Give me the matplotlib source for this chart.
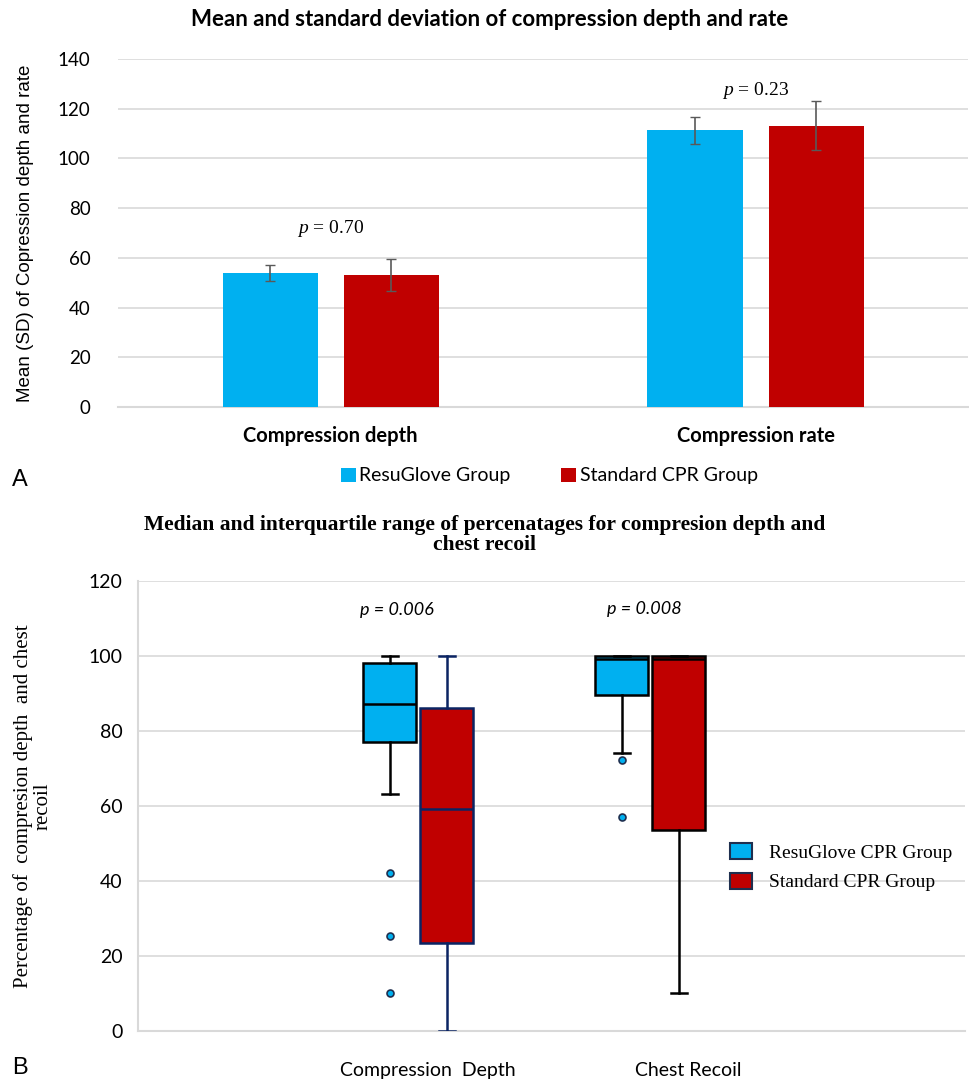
import matplotlib
matplotlib.use("Agg")
import matplotlib.pyplot as plt
from matplotlib.patches import Patch

plt.rcParams["mathtext.fontset"] = "custom"
plt.rcParams["mathtext.it"] = "Liberation Serif:italic"
plt.rcParams["mathtext.rm"] = "Liberation Serif"

# ---------------- Data: panel A ----------------
bar_categories = ["Compression depth", "Compression rate"]
resuglove_mean = [53.9, 111.3]
resuglove_sd = [3.2, 5.3]
standard_mean = [53.2, 113.2]
standard_sd = [6.4, 9.9]
bar_pvalues = ["0.70", "0.23"]
bar_yticks = [0, 20, 40, 60, 80, 100, 120, 140]

# ---------------- Data: panel B ----------------
box_categories = ["Compression  Depth", "Chest Recoil"]
# [whisker low, Q1, median, Q3, whisker high]
resu_depth = [63.2, 77.1, 87.3, 98.2, 100.0]
resu_depth_fliers = [42.2, 25.3, 10.2]
std_depth = [0.0, 23.6, 59.3, 86.1, 100.0]
std_depth_fliers = []
resu_recoil = [74.2, 89.7, 99.2, 100.0, 100.0]
resu_recoil_fliers = [72.2, 57.1]
std_recoil = [10.2, 53.6, 99.2, 100.0, 100.0]
std_recoil_fliers = []
box_pvalues = ["0.006", "0.008"]
box_yticks = [0, 20, 40, 60, 80, 100, 120]

BLUE = "#00B0F0"
RED = "#C00000"
GRID = "#D9D9D9"
SANS = ["Lato", "DejaVu Sans"]
SERIF = ["Liberation Serif", "DejaVu Serif"]

fig = plt.figure(figsize=(9.69, 10.8), dpi=100)

# ================= Panel A =================
ax1 = fig.add_axes([0.122, 1 - 407 / 1080, 0.877, (407 - 59) / 1080])
x = list(range(len(bar_categories)))
off = 0.1425
w = 0.224
ax1.bar([i - off for i in x], resuglove_mean, w, color=BLUE, zorder=3,
        yerr=resuglove_sd, error_kw=dict(ecolor="#595959", capsize=3.5, lw=1.2))
ax1.bar([i + off for i in x], standard_mean, w, color=RED, zorder=3,
        yerr=standard_sd, error_kw=dict(ecolor="#595959", capsize=3.5, lw=1.2))
ax1.set_xlim(-0.5, 1.5)
ax1.set_ylim(0, 140)
ax1.set_yticks(bar_yticks)
ax1.yaxis.grid(True, color=GRID, lw=1.2, zorder=0)
ax1.set_axisbelow(True)
for s in ["top", "right", "left"]:
    ax1.spines[s].set_visible(False)
ax1.spines["bottom"].set_color(GRID)
ax1.spines["bottom"].set_linewidth(1.5)
ax1.tick_params(axis="both", length=0, labelsize=13.5)
ax1.set_xticks(x)
ax1.set_xticklabels(bar_categories, fontsize=14.5, fontweight="bold", family=SANS, color="black")
ax1.tick_params(axis="x", pad=14)
for lab in ax1.get_yticklabels():
    lab.set_family(SANS)
ax1.tick_params(axis="y", pad=20)
ax1.set_ylabel("Mean (SD) of Copression depth and rate", fontsize=13.5,
               family=["Liberation Sans", "DejaVu Sans"], labelpad=17)
ax1.text(0, 72, "$p$ = " + bar_pvalues[0], ha="center", va="center", fontsize=14,
         family=SERIF)
ax1.text(1, 127.5, "$p$ = " + bar_pvalues[1], ha="center", va="center", fontsize=14,
         family=SERIF)
fig.text(0.505, 0.982, "Mean and standard deviation of compression depth and rate",
         ha="center", va="center", fontsize=16, fontweight="bold", family=SANS)
handles = [Patch(facecolor=BLUE, label="ResuGlove Group"),
           Patch(facecolor=RED, label="Standard CPR Group")]
fig.legend(handles=handles, loc="center", bbox_to_anchor=(0.567, 1 - 476 / 1080), ncol=2,
           frameon=False, prop={"family": SANS, "size": 14}, handlelength=0.75,
           handleheight=0.75, columnspacing=2.6, handletextpad=0.2)
fig.text(0.012, 1 - 480 / 1080, "A", fontsize=17, family=["Liberation Sans"], va="center")

# ================= Panel B =================
ax2 = fig.add_axes([0.142, 1 - 1031 / 1080, 0.854, (1031 - 581) / 1080])
bw = 0.204
cat_pos = [1, 2]
resu_pos = [0.854, 1.746]
std_pos = [1.073, 1.965]

def stats(v, fl):
    return dict(whislo=v[0], q1=v[1], med=v[2], q3=v[3], whishi=v[4], fliers=fl)

resu_stats = [stats(resu_depth, resu_depth_fliers), stats(resu_recoil, resu_recoil_fliers)]
std_stats = [stats(std_depth, std_depth_fliers), stats(std_recoil, std_recoil_fliers)]

ax2.bxp(resu_stats, positions=resu_pos, widths=bw, patch_artist=True,
        boxprops=dict(facecolor=BLUE, edgecolor="black", lw=1.8),
        medianprops=dict(color="black", lw=1.8),
        whiskerprops=dict(color="black", lw=1.8),
        capprops=dict(color="black", lw=1.8),
        flierprops=dict(marker="o", markerfacecolor=BLUE, markeredgecolor="#1F2F4F",
                        markersize=5, markeredgewidth=1.2),
        capwidths=0.062, zorder=3, manage_ticks=False)
ax2.bxp([std_stats[0]], positions=[std_pos[0]], widths=bw, patch_artist=True,
        boxprops=dict(facecolor=RED, edgecolor="#0B2463", lw=1.8),
        medianprops=dict(color="#0B2463", lw=1.8),
        whiskerprops=dict(color="#0B2463", lw=1.8),
        capprops=dict(color="#0B2463", lw=1.8),
        capwidths=0.062, zorder=3, manage_ticks=False)
ax2.bxp([std_stats[1]], positions=[std_pos[1]], widths=bw, patch_artist=True,
        boxprops=dict(facecolor=RED, edgecolor="black", lw=1.8),
        medianprops=dict(color="black", lw=1.8),
        whiskerprops=dict(color="black", lw=1.8),
        capprops=dict(color="black", lw=1.8),
        capwidths=0.062, zorder=3, manage_ticks=False)

ax2.set_xlim(-0.115, 3.065)
ax2.set_ylim(0, 120)
ax2.set_yticks(box_yticks)
ax2.yaxis.grid(True, color=GRID, lw=1.2, zorder=0)
ax2.set_axisbelow(True)
for s in ["top", "right"]:
    ax2.spines[s].set_visible(False)
ax2.spines["bottom"].set_color(GRID)
ax2.spines["left"].set_color(GRID)
ax2.spines["bottom"].set_linewidth(1.5)
ax2.spines["left"].set_linewidth(1.5)
ax2.set_xticks(cat_pos)
ax2.set_xticklabels(box_categories, fontsize=14, family=SANS)
ax2.tick_params(axis="both", length=0, labelsize=14)
ax2.tick_params(axis="x", pad=22)
ax2.tick_params(axis="y", pad=11)
for lab in ax2.get_yticklabels():
    lab.set_family(SANS)
ax2.set_ylabel("Percentage of  compresion depth  and chest\nrecoil", fontsize=15,
               family=SERIF, labelpad=26, linespacing=1.0)
ax2.text(0.881, 112.3, "p = " + box_pvalues[0], ha="center", va="center",
         fontsize=13, family=SANS, style="italic")
ax2.text(1.831, 112.6, "p = " + box_pvalues[1], ha="center", va="center",
         fontsize=13, family=SANS, style="italic")
fig.text(0.5, 1 - 535 / 1080,
         "Median and interquartile range of percenatages for compresion depth and\nchest recoil",
         ha="center", va="center", fontsize=15.5, fontweight="bold", family=SERIF,
         linespacing=1.05)
handles2 = [Patch(facecolor=BLUE, edgecolor="#1F2F4F", lw=1.5, label="ResuGlove CPR Group"),
            Patch(facecolor=RED, edgecolor="#1F2F4F", lw=1.5, label="Standard CPR Group")]
ax2.legend(handles=handles2, loc="center left", bbox_to_anchor=(0.695, 0.364), frameon=False,
           prop={"family": SERIF, "size": 14}, handlelength=1.1, handleheight=0.9,
           labelspacing=0.55, handletextpad=0.9)
fig.text(0.012, 1 - 1068 / 1080, "B", fontsize=17, family=["Liberation Sans"], va="center")

fig.savefig("out.png", dpi=100)
